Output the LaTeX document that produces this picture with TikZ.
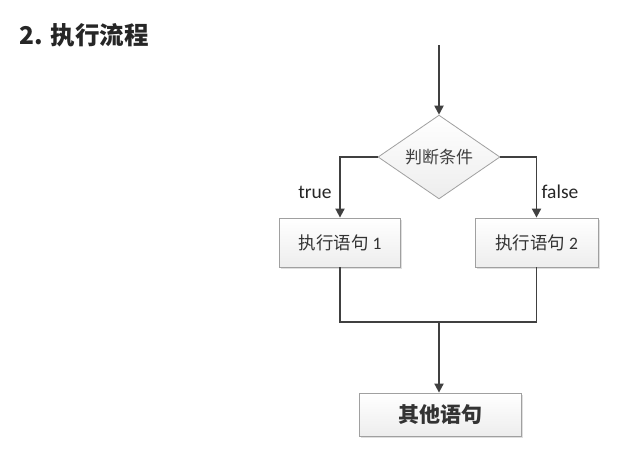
\documentclass[tikz,border=0pt]{standalone}
\usepackage{fontspec}
\setmainfont{Carlito}
\newfontfamily\cjk{Noto Sans CJK SC}
\newfontfamily\titlefont{Noto Sans CJK SC}
\usetikzlibrary{shapes.geometric,arrows.meta,shadows}
\definecolor{linec}{HTML}{404040}
\definecolor{boxedge}{HTML}{A0A0A0}
\tikzset{
  conn/.style={draw=linec,line width=1.8pt},
  arr/.style={conn,-{Triangle[length=9pt,width=9pt]}},
  procbox/.style={rectangle,draw=boxedge,line width=0.8pt,top color=white,bottom color=gray!14,
     drop shadow={shadow xshift=1.5pt,shadow yshift=-1.5pt,opacity=0.25},inner sep=0pt,text=black!80},
  decision/.style={diamond,draw=boxedge,line width=0.8pt,top color=white,bottom color=gray!14,inner sep=0pt,text=black!75},
  lbl/.style={font=\fontsize{19.5}{22}\selectfont,text=black!85}
}
\begin{document}
\begin{tikzpicture}[x=1pt,y=-1pt]
\useasboundingbox[fill=white] (0,0) rectangle (636,450);
\node[anchor=west,font=\titlefont\bfseries\fontsize{24.5}{27}\selectfont,text=black!85] (title) at (16,35) {2. 执行流程};
\coordinate (start) at (439,45);
\node[decision,minimum width=122pt,minimum height=72pt,font=\cjk\fontsize{17}{19}\selectfont] (cond) at (439,157) {判断条件};
\node[procbox,minimum width=121pt,minimum height=49pt,font=\fontsize{17.5}{19}\selectfont] (s1) at (340,242.5) {{\cjk 执行语句} 1};
\node[procbox,minimum width=123pt,minimum height=49pt,font=\fontsize{17.5}{19}\selectfont] (s2) at (536.5,242.5) {{\cjk 执行语句} 2};
\node[procbox,minimum width=162pt,minimum height=43pt,font=\cjk\bfseries\fontsize{21}{23}\selectfont] (other) at (440,414.5) {其他语句};
\coordinate (join) at (439,322);
\draw[arr] (start) -- (cond.north);
\draw[arr] (cond.west) -| (s1.north);
\draw[arr] (cond.east) -| (s2.north);
\draw[conn] (s1.south) |- (join) -| (s2.south);
\draw[arr] (join) -- (other.north -| join);
\node[lbl] (t) at (315,192) {true};
\node[lbl] (f) at (560,192) {false};
\end{tikzpicture}
\end{document}
